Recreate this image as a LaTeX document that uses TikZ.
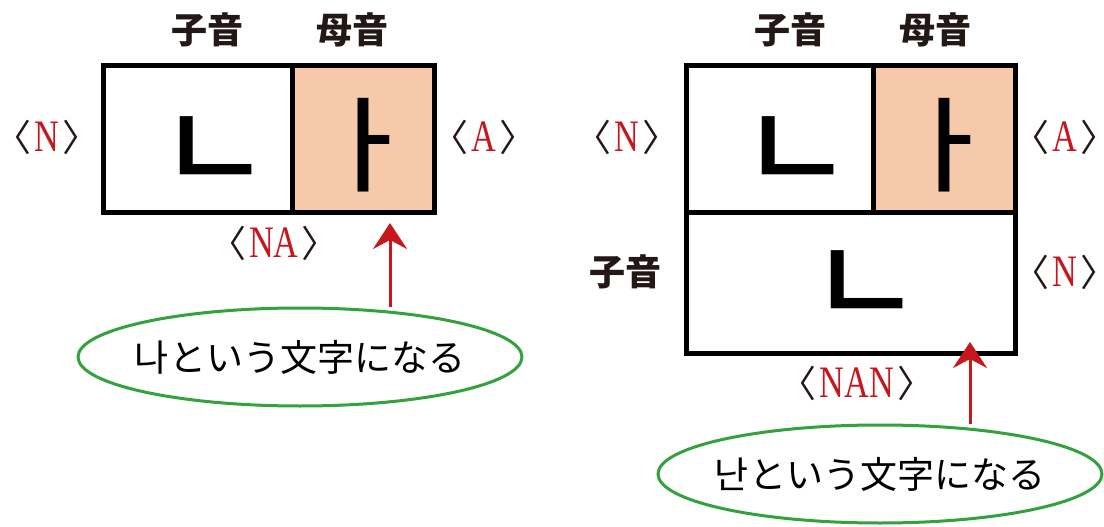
\documentclass[tikz,border=0pt]{standalone}
\usepackage{fontspec}
\usepackage{graphicx}
\setmainfont{Liberation Serif}
\newfontfamily\jpfont{Noto Sans CJK JP}
\newfontfamily\krfont{Noto Sans CJK KR}
\newfontfamily\jamofont{Noto Sans CJK KR Medium}
\newfontfamily\brfont[RawFeature=+halt]{Noto Sans CJK JP}
\usetikzlibrary{arrows.meta,shapes.geometric}
\definecolor{tagred}{HTML}{C8161D}
\definecolor{vowelfill}{HTML}{F7C9AB}
\definecolor{bubblegreen}{HTML}{33A23D}
\definecolor{headdark}{HTML}{231815}
\newcommand{\sound}[1]{{\brfont\fontsize{37}{37}\selectfont\color{headdark}〈}\kern3pt\textcolor{tagred}{\scalebox{0.76}[1]{#1}}\kern3pt{\brfont\fontsize{37}{37}\selectfont\color{headdark}〉}}

\begin{document}
\begin{tikzpicture}[
    x=1pt, y=-1pt,
    % boxes
    cell/.style={draw=black, line width=5pt, minimum height=146pt, inner sep=0pt},
    vowel cell/.style={cell, fill=vowelfill},
    cons/.style={font=\jamofont\fontsize{123}{123}\selectfont, inner sep=0pt},
    vowel/.style={font=\jamofont\fontsize{104}{104}\selectfont, inner sep=0pt},
    % texts
    head/.style={font=\jpfont\bfseries\fontsize{36}{36}\selectfont, text=headdark},
    tag/.style={font=\fontsize{45}{45}\selectfont, inner sep=0pt},
    bubble/.style={ellipse, draw=bubblegreen, line width=3pt, minimum width=444pt,
        minimum height=98pt, inner xsep=-10pt, inner ysep=0pt, font=\jpfont\fontsize{37}{37}\selectfont},
    pointer/.style={draw=tagred, line width=3pt, -{Stealth[length=26pt,width=34pt,inset=9pt]}}
]
\useasboundingbox (0,0) rectangle (1104,527);

% left: two cells
\node[cell, minimum width=189pt] (cA) at (197.5,139) {};
\node[vowel cell, minimum width=142pt] (vA) at (363,139) {};
\node[cons] (jnA) at (215,155) {ㄴ};
\node[vowel] (jaA) at (366,145) {ㅏ};

\node[head] (hcA) at (207,30) {子音};
\node[head] (hvA) at (352,30) {母音};
\node[tag] (tnA) at (47,137) {\sound{N}};
\node[tag] (taA) at (484,137) {\sound{A}};
\node[tag] (tnaA) at (274,243) {\sound{NA}};

\node[bubble] (bA) at (300,357) {{\krfont 나}という文字になる};
\coordinate (tipA) at (390,223);
\draw[pointer] (tipA |- bA.north) -- (tipA);

% right: two cells and a final consonant
\node[cell, minimum width=187pt] (cB) at (779.5,139) {};
\node[vowel cell, minimum width=142pt] (vB) at (944,139) {};
\node[cell, minimum width=329pt, minimum height=141pt] (fB) at (850.5,282.5) {};
\node[cons] (jnB) at (797,155) {ㄴ};
\node[vowel] (jaB) at (947,145) {ㅏ};
\node[cons] (jfB) at (866,289) {ㄴ};

\node[head] (hcB) at (790,30) {子音};
\node[head] (hvB) at (935,30) {母音};
\node[head] (hfB) at (625,272) {子音};
\node[tag] (tnB) at (627,137) {\sound{N}};
\node[tag] (taB) at (1065,137) {\sound{A}};
\node[tag] (tfB) at (1065,272) {\sound{N}};
\node[tag] (tnanB) at (857,383) {\sound{NAN}};

\node[bubble] (bB) at (880,474) {{\krfont 난}という文字になる};
\coordinate (tipB) at (970,342);
\draw[pointer] (tipB |- bB.north) -- (tipB);

\end{tikzpicture}
\end{document}
